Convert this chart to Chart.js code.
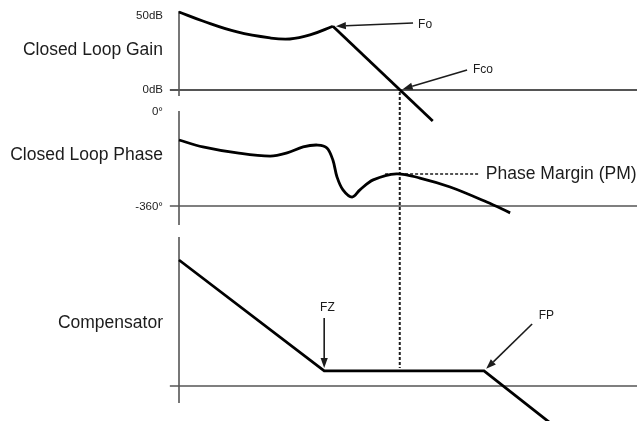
<!DOCTYPE html>
<html>
<head>
<meta charset="utf-8">
<script src="https://cdn.jsdelivr.net/npm/chart.js@4.4.1/dist/chart.umd.min.js"></script>
<style>
  html, body { margin: 0; padding: 0; background: #fff; }
  canvas { display: block; }
</style>
</head>
<body>
<canvas id="c" width="639" height="421"></canvas>
<script>
// Bode sketch: closed loop gain / phase and the compensator, sharing one log-frequency axis
// (x is in decades measured from the left axis).
var gainX = [0, 0.52, 1.27, 1.99, 2.42, 2.86, 3.36];
var gainDb = [52, 46, 38.7, 34.7, 34, 36.7, 42.5];
var rolloffX = [3.36, 5.54];
var rolloffDb = [42.5, -20.7];
var phaseX = [0, 0.52, 1.27, 1.99, 2.36, 2.71, 3.03, 3.23, 3.36, 3.45, 3.58, 3.78, 3.95, 4.24, 4.75, 5.26, 5.92, 6.72, 7.23];
var phaseDeg = [-110, -136, -159, -171, -159, -136, -129, -140, -186, -250, -299, -326, -299, -261, -238, -254, -288, -345, -386];
var compX = [0, 3.17, 6.66, 8.1];
var compDb = [72, 8.6, 8.6, -21];

var F_O = 3.36, F_CO = 4.82, F_Z = 3.17, F_P = 6.66;
var PM_DEG = -239;
var COMP_FLAT = 8.6;

var gainTicks = [50, 0];
var gainTickLabels = ['50dB', '0dB'];
var phaseTicks = [0, -360];
var phaseTickLabels = ['0°', '-360°'];
var panelTitles = ['Closed Loop Gain', 'Closed Loop Phase', 'Compensator'];

// layout: canvas pixel anchors for each scale
var W = 639, H = 421;
function lin(p1, v1, p2, v2) { return function (p) { return v1 + (p - p1) * (v2 - v1) / (p2 - p1); }; }
var fx = lin(179, 0, 637, 10);
var fGain = lin(90, 0, 15, 50);
var fPhase = lin(111, 0, 206, -360);
var fComp = lin(386, 0, 211, 100);

var INK = '#1c1c1c', AXIS = '#555';
var FONT = '"Liberation Sans", Arial, sans-serif';

function pts(xs, ys) { return xs.map(function (x, i) { return { x: x, y: ys[i] }; }); }

function line(data, axis, opts) {
  return Object.assign({
    data: data, yAxisID: axis, borderColor: '#000', borderWidth: 2.8,
    pointRadius: 0, fill: false, tension: 0, clip: false, capBezierPoints: false
  }, opts || {});
}

var annot = {
  id: 'annot',
  beforeDatasetsDraw: function (chart) {
    var c = chart.ctx, s = chart.scales;
    var X = function (v) { return s.x.getPixelForValue(v); };
    c.save();
    c.strokeStyle = AXIS;
    // vertical axes
    [['yGain', 52.7, -4], ['yPhase', 0, -432], ['yComp', 85.1, -9.7]].forEach(function (a) {
      c.lineWidth = 1.6;
      c.beginPath();
      c.moveTo(X(0), s[a[0]].getPixelForValue(a[1]));
      c.lineTo(X(0), s[a[0]].getPixelForValue(a[2]));
      c.stroke();
    });
    // reference lines (0dB, -360°, compensator 0dB)
    [['yGain', 0, 2], ['yPhase', -360, 1.6], ['yComp', 0, 1.6]].forEach(function (a) {
      var y = s[a[0]].getPixelForValue(a[1]);
      c.lineWidth = a[2];
      c.beginPath();
      c.moveTo(X(-0.2), y);
      c.lineTo(X(10), y);
      c.stroke();
    });
    // crossover marker down through all panels
    c.strokeStyle = INK;
    c.lineWidth = 2;
    c.setLineDash([3, 2]);
    c.beginPath();
    c.moveTo(X(F_CO), s.yGain.getPixelForValue(0) + 2);
    c.lineTo(X(F_CO), s.yComp.getPixelForValue(COMP_FLAT) - 3);
    c.stroke();
    // phase margin level
    c.lineWidth = 1.5;
    var yPm = s.yPhase.getPixelForValue(PM_DEG);
    c.beginPath();
    c.moveTo(X(4.5), yPm);
    c.lineTo(X(6.57), yPm);
    c.stroke();
    c.restore();
  },
  afterDatasetsDraw: function (chart) {
    var c = chart.ctx, s = chart.scales;
    var X = function (v) { return s.x.getPixelForValue(v); };
    c.save();
    c.fillStyle = INK;
    c.strokeStyle = INK;

    function arrow(tx, ty, hx, hy) {
      var dx = hx - tx, dy = hy - ty, len = Math.sqrt(dx * dx + dy * dy);
      var ux = dx / len, uy = dy / len, gap = 3, head = 10, half = 3.6;
      var ex = hx - ux * gap, ey = hy - uy * gap;
      var bx = ex - ux * head, by = ey - uy * head;
      c.lineWidth = 1.6;
      c.beginPath(); c.moveTo(tx, ty); c.lineTo(bx, by); c.stroke();
      c.beginPath();
      c.moveTo(ex, ey);
      c.lineTo(bx - uy * half, by + ux * half);
      c.lineTo(bx + uy * half, by - ux * half);
      c.closePath(); c.fill();
    }
    arrow(X(5.11), s.yGain.getPixelForValue(44.7), X(F_O), s.yGain.getPixelForValue(42.5));
    arrow(X(6.29), s.yGain.getPixelForValue(13.3), X(F_CO), s.yGain.getPixelForValue(0));
    arrow(X(F_Z), s.yComp.getPixelForValue(38.9), X(F_Z), s.yComp.getPixelForValue(COMP_FLAT));
    arrow(X(7.71), s.yComp.getPixelForValue(35.4), X(F_P), s.yComp.getPixelForValue(COMP_FLAT));

    function text(str, x, y, align, size) {
      c.font = size + 'px ' + FONT;
      c.textAlign = align;
      c.textBaseline = 'middle';
      c.fillText(str, x, y);
    }
    var xl = X(-0.35);
    gainTicks.forEach(function (v, i) { text(gainTickLabels[i], xl, s.yGain.getPixelForValue(v) + (i === 0 ? 1 : 0), 'right', 11.5); });
    phaseTicks.forEach(function (v, i) { text(phaseTickLabels[i], xl, s.yPhase.getPixelForValue(v) + 1, 'right', 11.5); });
    text(panelTitles[0], xl, s.yGain.getPixelForValue(26.7), 'right', 17.5);
    text(panelTitles[1], xl, s.yPhase.getPixelForValue(-166.7), 'right', 17.5);
    text(panelTitles[2], xl, s.yComp.getPixelForValue(36), 'right', 17.5);
    text('Fo', X(5.22), s.yGain.getPixelForValue(43.3), 'left', 12);
    text('Fco', X(6.42), s.yGain.getPixelForValue(13.3), 'left', 12);
    text('FZ', X(3.24), s.yComp.getPixelForValue(44.6), 'center', 12);
    text('FP', X(8.02), s.yComp.getPixelForValue(40), 'center', 12);
    text('Phase Margin (PM)', X(6.7), s.yPhase.getPixelForValue(PM_DEG), 'left', 17.5);
    c.restore();
  }
};

new Chart(document.getElementById('c'), {
  type: 'line',
  data: {
    datasets: [
      line(pts(gainX, gainDb), 'yGain', { tension: 0.4 }),
      line(pts(rolloffX, rolloffDb), 'yGain'),
      line(pts(phaseX, phaseDeg), 'yPhase', { tension: 0.35 }),
      line(pts(compX, compDb), 'yComp')
    ]
  },
  options: {
    responsive: false,
    animation: false,
    events: [],
    layout: { padding: 0 },
    plugins: { legend: { display: false }, tooltip: { enabled: false }, title: { display: false } },
    scales: {
      x: { type: 'linear', display: false, min: fx(0), max: fx(W) },
      yGain: { type: 'linear', axis: 'y', display: false, min: fGain(H), max: fGain(0) },
      yPhase: { type: 'linear', axis: 'y', display: false, min: fPhase(H), max: fPhase(0) },
      yComp: { type: 'linear', axis: 'y', display: false, min: fComp(H), max: fComp(0) }
    }
  },
  plugins: [annot]
});
</script>
</body>
</html>
